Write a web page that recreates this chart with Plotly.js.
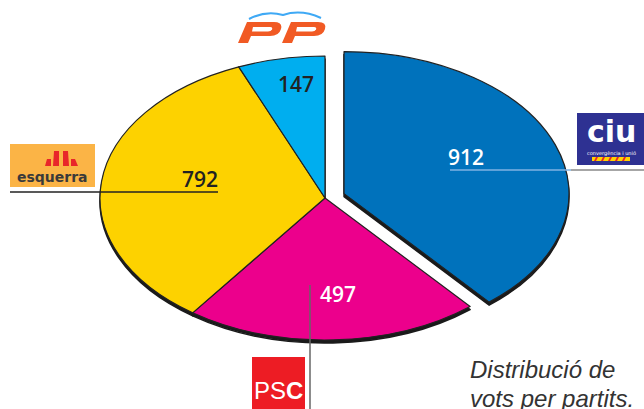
<!DOCTYPE html>
<html>
<head>
<meta charset="utf-8">
<script src="https://cdn.plot.ly/plotly-3.0.1.min.js"></script>
<style>
  html, body { margin: 0; padding: 0; background: #fff; }
  #chart { width: 644px; height: 409px; }
</style>
</head>
<body>
<div id="chart"></div>
<script>
// ---- data ----
const parties = ["CiU", "PSC", "ERC", "PP"];
const votes = [912, 497, 792, 147];
const partyColors = ["#0072BC", "#EC008C", "#FDD200", "#00AEEF"];
const pulls = [0.09, 0, 0, 0];
const voteLabels = ["912", "497", "792", "147"];
const captionLines = ["Distribució de", "vots per partits."];

// ---- geometry helpers (layout only) ----
const W = 644, H = 409;
const cxPx = 325, cyPx = 198, rPx = 142;   // pie centre / vertical radius
const stretchX = 225 / 142;                // ellipse aspect
const maxPull = Math.max(...pulls);
const half = rPx * (1 + maxPull);
const dom = {
  x: [(cxPx - half) / W, (cxPx + half) / W],
  y: [((H - cyPx) - half) / H, ((H - cyPx) + half) / H]
};
const shadowShift = 3 / H;

const shadow = {
  type: "pie", values: votes, labels: parties, sort: false, direction: "clockwise",
  rotation: 0, pull: pulls, textinfo: "none", hoverinfo: "skip", showlegend: false,
  marker: { colors: parties.map(() => "#1a1a1a"), line: { color: "#1a1a1a", width: 1.5 } },
  domain: { x: dom.x, y: [dom.y[0] - shadowShift, dom.y[1] - shadowShift] }
};
const pie = {
  type: "pie", values: votes, labels: parties, sort: false, direction: "clockwise",
  rotation: 0, pull: pulls, textinfo: "none", hoverinfo: "label+value", showlegend: false,
  marker: { colors: partyColors, line: { color: "#222", width: 1.2 } },
  domain: dom
};

const numFont = { family: "Open Sans, Liberation Sans, sans-serif", size: 21, weight: 600 };
const capFont = { family: "Liberation Sans, Arial, sans-serif", size: 24, color: "#333" };
const annotations = [
  { x: 466, y: 157, text: voteLabels[0], font: Object.assign({ color: "#fff" }, numFont) },
  { x: 338, y: 294, text: voteLabels[1], font: Object.assign({ color: "#fff" }, numFont) },
  { x: 200, y: 179, text: voteLabels[2], font: Object.assign({ color: "#222" }, numFont) },
  { x: 296, y: 84, text: voteLabels[3], font: Object.assign({ color: "#222" }, numFont) },
  // caption
  { x: 468, y: 369, xanchor: "left", text: "<i>" + captionLines[0] + "</i>", font: capFont },
  { x: 468, y: 398, xanchor: "left", text: "<i>" + captionLines[1] + "</i>", font: capFont },
  // logos
  { x: 52, y: 177, text: "<b>esquerra</b>", font: { family: "DejaVu Sans, sans-serif", size: 14, color: "#3a3a3a" } },
  { x: 611, y: 131, text: "<b>ciu</b>", font: { family: "DejaVu Sans, sans-serif", size: 30, color: "#fff" } },
  { x: 611, y: 153, text: "convergència i unió", font: { family: "DejaVu Sans, sans-serif", size: 5, color: "#fff" } },
  { x: 278, y: 390, text: "PS<b>C</b>", font: { family: "Liberation Sans, Arial, sans-serif", size: 24, color: "#fff" } }
].map(a => Object.assign({ xref: "x", yref: "y", showarrow: false }, a));

const shapes = [
  // leader lines
  { type: "line", x0: 10, x1: 218, y0: 192, y1: 192, line: { color: "#222", width: 1.5 } },
  { type: "line", x0: 450, x1: 571, y0: 170, y1: 170, line: { color: "#7fb3e3", width: 1.5 } },
  { type: "line", x0: 571, x1: 644, y0: 170, y1: 170, line: { color: "#888", width: 1.5 } },
  { type: "line", x0: 310, x1: 310, y0: 285, y1: 409, line: { color: "#666", width: 1.5 } },
  // ERC logo
  { type: "rect", x0: 10, x1: 95, y0: 144, y1: 187, fillcolor: "#FBB446", line: { width: 0 } },
  { type: "path", path: "M 47 159 L 51 159 L 51 166 L 45 166 Z", fillcolor: "#E8262A", line: { width: 0 } },
  { type: "path", path: "M 54 151 L 59 151 L 59 166 L 53 166 Z", fillcolor: "#E8262A", line: { width: 0 } },
  { type: "path", path: "M 63 151 L 68 151 L 69 166 L 63 166 Z", fillcolor: "#E8262A", line: { width: 0 } },
  { type: "path", path: "M 71 159 L 75 159 L 78 166 L 71 166 Z", fillcolor: "#E8262A", line: { width: 0 } },
  // CiU logo
  { type: "rect", x0: 577, x1: 644, y0: 113, y1: 165, fillcolor: "#2E3192", line: { width: 0 } },
  { type: "rect", x0: 592, x1: 630, y0: 157, y1: 161, fillcolor: "#FFD200", line: { width: 0 } },
  { type: "path", path: "M 596 157 L 598 157 L 596 161 L 594 161 Z", fillcolor: "#E8262A", line: { width: 0 } },
  { type: "path", path: "M 603 157 L 605 157 L 603 161 L 601 161 Z", fillcolor: "#E8262A", line: { width: 0 } },
  { type: "path", path: "M 610 157 L 612 157 L 610 161 L 608 161 Z", fillcolor: "#E8262A", line: { width: 0 } },
  { type: "path", path: "M 617 157 L 619 157 L 617 161 L 615 161 Z", fillcolor: "#E8262A", line: { width: 0 } },
  { type: "path", path: "M 624 157 L 626 157 L 624 161 L 622 161 Z", fillcolor: "#E8262A", line: { width: 0 } },
  // PSC logo
  { type: "rect", x0: 252, x1: 305, y0: 357, y1: 409, fillcolor: "#ED1C24", line: { width: 0 } },
  // PP logo
  { type: "path", path: "M 249 19 Q 266 10 283 15 Q 301 9 321 18", line: { color: "#3FA9F5", width: 2 } },
  { type: "path", path: "M 247 22 L 274 22 Q 283 22 281 29 Q 279 36 270 36 L 251 36 L 248 43 L 238 43 Z", fillcolor: "#F15A24", line: { width: 0 } },
  { type: "path", path: "M 253 27 L 270 27 Q 273 27 272 29.5 Q 271 31.5 268 31.5 L 252 31.5 Z", fillcolor: "#fff", line: { width: 0 } },
  { type: "path", path: "M 291 22 L 318 22 Q 327 22 325 29 Q 323 36 314 36 L 295 36 L 292 43 L 282 43 Z", fillcolor: "#F15A24", line: { width: 0 } },
  { type: "path", path: "M 297 27 L 314 27 Q 317 27 316 29.5 Q 315 31.5 312 31.5 L 296 31.5 Z", fillcolor: "#fff", line: { width: 0 } }
].map(s => Object.assign({ xref: "x", yref: "y", layer: "above" }, s));

const layout = {
  width: W, height: H,
  margin: { l: 0, r: 0, t: 0, b: 0, pad: 0 },
  paper_bgcolor: "#fff", plot_bgcolor: "rgba(0,0,0,0)",
  xaxis: { range: [0, W], visible: false, fixedrange: true },
  yaxis: { range: [H, 0], visible: false, fixedrange: true },
  showlegend: false,
  annotations: annotations,
  shapes: shapes
};

const gd = document.getElementById("chart");
Plotly.newPlot(gd, [shadow, pie], layout, { displayModeBar: false, staticPlot: true }).then(() => {
  // stretch the pie horizontally into an ellipse (perspective look)
  const cx = gd.calcdata[1][0].cx;
  const layer = gd.querySelector(".pielayer");
  if (layer) {
    layer.setAttribute("transform",
      "translate(" + cx + ",0) scale(" + stretchX + ",1) translate(" + (-cx) + ",0)");
    layer.querySelectorAll("path").forEach(p => p.setAttribute("vector-effect", "non-scaling-stroke"));
  }
});
</script>
</body>
</html>
